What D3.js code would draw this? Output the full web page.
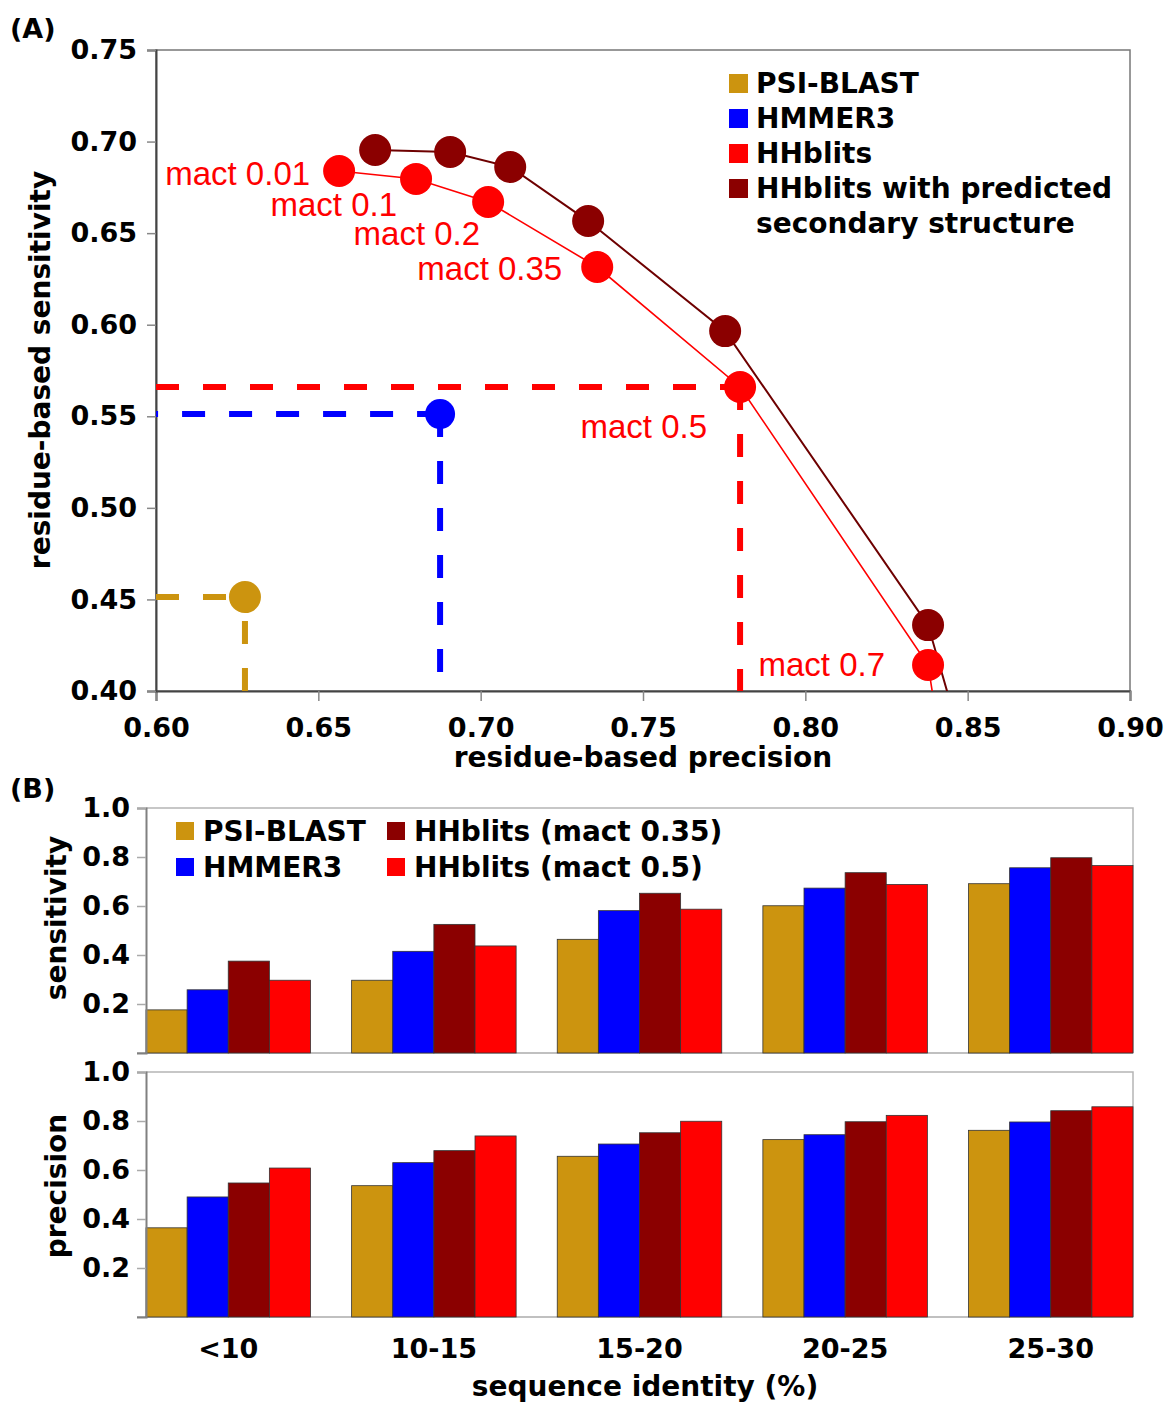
<!DOCTYPE html>
<html>
<head>
<meta charset="utf-8">
<script src="https://cdn.jsdelivr.net/npm/d3@7"></script>
<style>
  body { margin: 0; background: #fff; }
  svg text { font-family: 'DejaVu Sans', sans-serif; font-weight: bold; fill: #000; }
  svg text.mact { font-family: 'Liberation Sans', Arial, sans-serif; font-weight: normal; fill: #ff0000; }
</style>
</head>
<body>
<div id="chart"></div>
<script>
// ---- panel A data ----
const mactLabels = ['mact 0.01', 'mact 0.1', 'mact 0.2', 'mact 0.35', 'mact 0.5', 'mact 0.7', null];
const hhPrec = [0.6564, 0.6801, 0.7023, 0.7359, 0.7799, 0.8378, 0.848];
const hhSens = [0.6839, 0.6796, 0.667, 0.6315, 0.566, 0.4142, 0.30];
const hhSsPrec = [0.6675, 0.6906, 0.7091, 0.7331, 0.7753, 0.8378, 0.855];
const hhSsSens = [0.6954, 0.6943, 0.6861, 0.6566, 0.5965, 0.436, 0.33];
const hmmerPoint = [0.6875, 0.5512];
const psiPoint = [0.6274, 0.4513];
const hhPoint = [0.7799, 0.566];
const xTicksA = [0.60, 0.65, 0.70, 0.75, 0.80, 0.85, 0.90];
const yTicksA = [0.40, 0.45, 0.50, 0.55, 0.60, 0.65, 0.70, 0.75];
const legendA = ['PSI-BLAST', 'HMMER3', 'HHblits', 'HHblits with predicted'];

// ---- panel B data ----
const identityBins = ['<10', '10-15', '15-20', '20-25', '25-30'];
const barSeries = ['PSI-BLAST', 'HMMER3', 'HHblits (mact 0.35)', 'HHblits (mact 0.5)'];
const psiSensB = [0.176, 0.297, 0.464, 0.601, 0.691];
const hmmerSensB = [0.258, 0.415, 0.581, 0.673, 0.756];
const hh035SensB = [0.375, 0.525, 0.652, 0.736, 0.797];
const hh05SensB = [0.297, 0.437, 0.587, 0.688, 0.765];
const psiPrecB = [0.364, 0.536, 0.656, 0.724, 0.762];
const hmmerPrecB = [0.490, 0.630, 0.706, 0.744, 0.796];
const hh035PrecB = [0.547, 0.679, 0.752, 0.797, 0.842];
const hh05PrecB = [0.608, 0.739, 0.799, 0.823, 0.858];
const yTicksB = [0.2, 0.4, 0.6, 0.8, 1.0];

const GOLD = '#cc940f';
const BLUE = '#0000ff';
const RED = '#ff0000';
const DARKRED = '#8b0000';

const svg = d3.select('#chart').append('svg').attr('width', 1167).attr('height', 1402);

// =================== Panel A ===================
const a = { left: 156, right: 1130, top: 50, bottom: 691 };
const xA = d3.scaleLinear().domain([0.6, 0.9]).range([a.left, a.right]);
const yA = d3.scaleLinear().domain([0.4, 0.75]).range([a.bottom, a.top]);

svg.append('text').attr('x', 10).attr('y', 38).style('font-size', '27px').text('(A)');

svg.append('defs').append('clipPath').attr('id', 'clipA')
  .append('rect').attr('x', a.left).attr('y', a.top).attr('width', a.right - a.left).attr('height', a.bottom - a.top);

// frame
svg.append('rect')
  .attr('x', a.left).attr('y', a.top).attr('width', a.right - a.left).attr('height', a.bottom - a.top)
  .attr('fill', 'none').attr('stroke', '#777').attr('stroke-width', 1.5);

const xAxisA = svg.append('g')
  .attr('transform', `translate(0,${a.bottom})`)
  .call(d3.axisBottom(xA).tickValues(xTicksA).tickFormat(d3.format('.2f')).tickSize(10).tickPadding(17));
const yAxisA = svg.append('g')
  .attr('transform', `translate(${a.left},0)`)
  .call(d3.axisLeft(yA).tickValues(yTicksA).tickFormat(d3.format('.2f')).tickSize(9).tickPadding(10));
[xAxisA, yAxisA].forEach(g => {
  g.select('.domain').attr('stroke', '#444').attr('stroke-width', 2);
  g.selectAll('.tick line').attr('stroke', '#888').attr('stroke-width', 1.5);
  g.selectAll('.tick text').style('font-size', '27px').style('font-family', 'DejaVu Sans').style('font-weight', 'bold').attr('fill', '#000');
});

svg.append('text').attr('x', 643).attr('y', 767).attr('text-anchor', 'middle').style('font-size', '28px')
  .text('residue-based precision');
svg.append('text').attr('transform', 'translate(50,370) rotate(-90)').attr('text-anchor', 'middle').style('font-size', '28px')
  .text('residue-based sensitivity');

const plotA = svg.append('g').attr('clip-path', 'url(#clipA)');

// dashed guide lines between each point and the axes
const guide = (pt, color, hFromAxis, vFromAxis) => {
  const px = xA(pt[0]), py = yA(pt[1]);
  const h = hFromAxis ? `M${a.left},${py}H${px}` : `M${px},${py}H${a.left}`;
  const v = vFromAxis ? `M${px},${a.bottom}V${py}` : `M${px},${py}V${a.bottom}`;
  [h, v].forEach(d => {
    plotA.append('path').attr('d', d)
      .attr('stroke', color).attr('stroke-width', 6).attr('stroke-dasharray', '23,24').attr('fill', 'none');
  });
};
guide(hhPoint, RED, true, false);
guide(hmmerPoint, BLUE, false, false);
guide(psiPoint, GOLD, true, true);

const lineA = d3.line().x(d => xA(d[0])).y(d => yA(d[1]));
const hhData = hhPrec.map((p, i) => [p, hhSens[i]]);
const hhSsData = hhSsPrec.map((p, i) => [p, hhSsSens[i]]);

plotA.append('path').attr('d', lineA(hhSsData)).attr('fill', 'none').attr('stroke', '#6e0000').attr('stroke-width', 2);
plotA.append('path').attr('d', lineA(hhData)).attr('fill', 'none').attr('stroke', RED).attr('stroke-width', 1.6);

plotA.selectAll('circle.ss').data(hhSsData).enter().append('circle')
  .attr('cx', d => xA(d[0])).attr('cy', d => yA(d[1])).attr('r', 16).attr('fill', DARKRED);
plotA.selectAll('circle.hh').data(hhData).enter().append('circle')
  .attr('cx', d => xA(d[0])).attr('cy', d => yA(d[1])).attr('r', 16).attr('fill', RED);
plotA.append('circle').attr('cx', xA(hmmerPoint[0])).attr('cy', yA(hmmerPoint[1])).attr('r', 15).attr('fill', BLUE);
plotA.append('circle').attr('cx', xA(psiPoint[0])).attr('cy', yA(psiPoint[1])).attr('r', 16).attr('fill', GOLD);

// mact annotations, offsets relative to the HHblits points
const mactOffsets = [[-29, 14], [-19, 37], [-8, 43], [-35, 13], [-33, 51], [-43, 11]];
mactOffsets.forEach((o, i) => {
  svg.append('text').attr('class', 'mact')
    .attr('x', xA(hhPrec[i]) + o[0]).attr('y', yA(hhSens[i]) + o[1])
    .attr('text-anchor', 'end').style('font-size', '33px')
    .text(mactLabels[i]);
});

// legend A
const legendAColors = [GOLD, BLUE, RED, DARKRED];
const legA = svg.append('g').attr('transform', 'translate(729,74)');
legendA.forEach((name, i) => {
  legA.append('rect').attr('x', 0).attr('y', i * 35).attr('width', 19).attr('height', 19).attr('fill', legendAColors[i]);
  legA.append('text').attr('x', 27).attr('y', i * 35 + 19).style('font-size', '28px').text(name);
});
legA.append('text').attr('x', 27).attr('y', 4 * 35 + 19).style('font-size', '28px').text('secondary structure');

// =================== Panel B ===================
svg.append('text').attr('x', 10).attr('y', 798).style('font-size', '27px').text('(B)');

const b = { left: 146, right: 1133 };
const xB = d3.scaleBand().domain(identityBins).range([b.left, b.right]).paddingInner(0.2).paddingOuter(0);
const xSeries = d3.scaleBand().domain(barSeries).range([0, xB.bandwidth()]);
const barColors = d3.scaleOrdinal().domain(barSeries).range([GOLD, BLUE, DARKRED, RED]);

const drawBars = (top, bottom, seriesValues, title, titleY) => {
  const y = d3.scaleLinear().domain([0, 1]).range([bottom, top]);

  // light frame on top and right
  svg.append('path').attr('d', `M${b.left},${top}H${b.right}V${bottom}`)
    .attr('fill', 'none').attr('stroke', '#b5b5b5').attr('stroke-width', 1.5);
  svg.append('line').attr('x1', b.left - 9).attr('x2', b.right).attr('y1', bottom).attr('y2', bottom)
    .attr('stroke', '#c0c0c0').attr('stroke-width', 2);

  const g = svg.append('g');
  identityBins.forEach((bin, i) => {
    barSeries.forEach((s, j) => {
      g.append('rect')
        .attr('x', xB(bin) + xSeries(s))
        .attr('y', y(seriesValues[j][i]))
        .attr('width', xSeries.bandwidth())
        .attr('height', bottom - y(seriesValues[j][i]))
        .attr('fill', barColors(s))
        .attr('stroke', '#333').attr('stroke-width', 0.8);
    });
  });

  const yAxis = svg.append('g')
    .attr('transform', `translate(${b.left},0)`)
    .call(d3.axisLeft(y).tickValues(yTicksB).tickFormat(d3.format('.1f')).tickSize(9).tickPadding(7));
  yAxis.select('.domain').attr('stroke', '#808080').attr('stroke-width', 2);
  yAxis.selectAll('.tick line').attr('stroke', '#aaa').attr('stroke-width', 1.5);
  yAxis.selectAll('.tick text').style('font-size', '27px').style('font-family', 'DejaVu Sans').style('font-weight', 'bold').attr('fill', '#000');

  svg.append('text').attr('transform', `translate(66,${titleY}) rotate(-90)`).attr('text-anchor', 'middle')
    .style('font-size', '28px').text(title);
};

drawBars(808, 1053, [psiSensB, hmmerSensB, hh035SensB, hh05SensB], 'sensitivity', 918);
drawBars(1072, 1317, [psiPrecB, hmmerPrecB, hh035PrecB, hh05PrecB], 'precision', 1186);

// category labels
svg.append('g').selectAll('text').data(identityBins).enter().append('text')
  .attr('x', d => xB(d) + xB.bandwidth() / 2).attr('y', 1358)
  .attr('text-anchor', 'middle').style('font-size', '27px').text(d => d);

svg.append('text').attr('x', 645).attr('y', 1396).attr('text-anchor', 'middle').style('font-size', '28px')
  .text('sequence identity (%)');

// legend B
const legB = svg.append('g').attr('transform', 'translate(176,822)');
barSeries.forEach((s, i) => {
  const col = i < 2 ? 0 : 1;
  const row = i % 2;
  const gx = col * 211;
  const gy = row * 36;
  legB.append('rect').attr('x', gx).attr('y', gy).attr('width', 18).attr('height', 18).attr('fill', barColors(s));
  legB.append('text').attr('x', gx + 27).attr('y', gy + 19).style('font-size', '28px').text(s);
});
</script>
</body>
</html>
